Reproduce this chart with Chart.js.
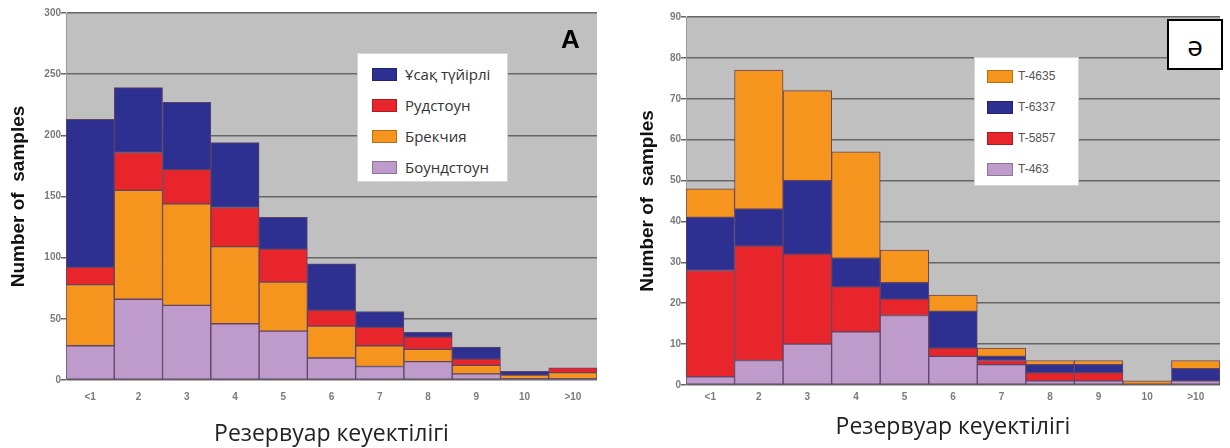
<!DOCTYPE html>
<html lang="kk">
<head>
    <meta charset="UTF-8">
    <title>Резервуар кеуектілігі</title>
    <style>
        body {
            margin: 0;
            width: 1230px;
            height: 448px;
            position: relative;
            overflow: hidden;
            background: #fff;
            font-family: 'Liberation Sans', Arial, sans-serif;
        }
        .panel {
            position: absolute;
            top: 0;
        }
        .legend {
            position: absolute;
            background: #fff;
            border: 1px solid #d6d6d6;
            box-sizing: border-box;
        }
        .legend .item {
            position: absolute;
            height: 20px;
            display: flex;
            align-items: center;
            white-space: nowrap;
        }
        .legend .swatch {
            box-sizing: border-box;
            height: 13px;
            border: 1px solid rgba(0, 0, 0, 0.25);
        }
        .tag {
            position: absolute;
            line-height: 1;
        }
    </style>
</head>
<body>
    <div class="panel" style="left:0; width:610px; height:448px;">
        <canvas id="chartA" width="610" height="448"></canvas>
    </div>
    <div class="panel" style="left:610px; width:620px; height:448px;">
        <canvas id="chartB" width="620" height="448"></canvas>
    </div>

    <div id="legendA" class="legend" style="left:357px; top:53px; width:151px; height:129px;"></div>
    <div id="legendB" class="legend" style="left:974px; top:57px; width:105px; height:129px;"></div>

    <div class="tag" style="left:561px; top:24px; font:bold 26px 'Liberation Sans', Arial, sans-serif;">A</div>
    <div class="tag" style="left:1167px; top:19px; width:56px; height:51px; box-sizing:border-box; border:2px solid #000; background:#fff; font:28px 'Open Sans', sans-serif; display:flex; align-items:center; justify-content:center;">ə</div>

    <script src="https://cdn.jsdelivr.net/npm/chart.js"></script>
    <script>
        // porosity classes (x axis)
        const categories = ['<1', '2', '3', '4', '5', '6', '7', '8', '9', '10', '>10'];

        // panel A, by rock type (bottom of stack first)
        const boundstone = [28, 66, 61, 46, 40, 18, 11, 15, 5, 1, 1];
        const breccia = [50, 89, 83, 63, 40, 26, 17, 10, 7, 3, 5];
        const rudstone = [14, 31, 28, 32, 27, 13, 15, 10, 5, 0, 4];
        const fineGrained = [121, 53, 55, 53, 26, 38, 13, 4, 10, 3, 0];

        // panel ə, by well (bottom of stack first)
        const t463 = [2, 6, 10, 13, 17, 7, 5, 1, 1, 0, 1];
        const t5857 = [26, 28, 22, 11, 4, 2, 1, 2, 2, 0, 0];
        const t6337 = [13, 9, 18, 7, 4, 9, 1, 2, 2, 0, 3];
        const t4635 = [7, 34, 22, 26, 8, 4, 2, 1, 1, 1, 2];

        const yTicksA = { max: 300, step: 50 };
        const yTicksB = { max: 90, step: 10 };

        const BLUE = '#2d3090';
        const RED = '#e9252c';
        const ORANGE = '#f6951e';
        const LILAC = '#be9bca';

        const seriesA = [
            { label: 'Боундстоун', data: boundstone, color: LILAC },
            { label: 'Брекчия', data: breccia, color: ORANGE },
            { label: 'Рудстоун', data: rudstone, color: RED },
            { label: 'Ұсақ түйірлі', data: fineGrained, color: BLUE }
        ];
        const seriesB = [
            { label: 'T-463', data: t463, color: LILAC },
            { label: 'T-5857', data: t5857, color: RED },
            { label: 'T-6337', data: t6337, color: BLUE },
            { label: 'T-4635', data: t4635, color: ORANGE }
        ];

        // grey plot area like the old Excel charts
        const plotBackground = {
            id: 'plotBackground',
            beforeDraw(chart) {
                const { ctx, chartArea: a } = chart;
                ctx.save();
                ctx.fillStyle = '#c0c0c0';
                ctx.fillRect(a.left, a.top, a.right - a.left, a.bottom - a.top);
                ctx.restore();
            }
        };

        const makeChart = (id, series, yTicks, o) => new Chart(document.getElementById(id), {
            type: 'bar',
            data: {
                labels: categories,
                datasets: series.map(s => ({
                    label: s.label,
                    data: s.data,
                    backgroundColor: s.color,
                    borderColor: '#5e4466',
                    borderWidth: 1,
                    borderSkipped: false,
                    barPercentage: 1,
                    categoryPercentage: 1
                }))
            },
            options: {
                responsive: false,
                animation: false,
                devicePixelRatio: 1,
                layout: { padding: { left: 0, top: o.top, right: o.right, bottom: 0 } },
                plugins: { legend: { display: false }, tooltip: { enabled: false } },
                scales: {
                    x: {
                        stacked: true,
                        afterFit: s => { s.height = o.xHeight; },
                        grid: { display: false, drawTicks: false },
                        border: { display: false },
                        ticks: { color: '#7a7a7a', padding: o.xTickPad, font: { family: 'Liberation Sans', size: o.tickSize, weight: 'bold' } },
                        title: {
                            display: true,
                            text: 'Резервуар кеуектілігі',
                            color: '#222',
                            font: { family: 'Open Sans', size: 23 },
                            padding: { top: 0, bottom: o.xTitlePad }
                        }
                    },
                    y: {
                        stacked: true,
                        min: 0,
                        max: yTicks.max,
                        afterFit: s => { s.width = o.yWidth; },
                        grid: { color: '#666', lineWidth: 1.5, tickLength: 5 },
                        border: { color: '#9a9a9a', width: 1 },
                        ticks: { stepSize: yTicks.step, color: '#7a7a7a', padding: 0, font: { family: 'Liberation Sans', size: o.tickSize, weight: 'bold' } },
                        title: {
                            display: true,
                            text: 'Number of  samples',
                            color: '#111',
                            font: { family: 'Liberation Sans', size: 19, weight: 'bold' },
                            padding: { top: o.yTitlePad, bottom: 0 }
                        }
                    }
                }
            },
            plugins: [plotBackground]
        });

        makeChart('chartA', seriesA, yTicksA, { top: 13, right: 13, xHeight: 68, yWidth: 66, tickSize: 10, xTickPad: 11, xTitlePad: 0, yTitlePad: 7 });
        makeChart('chartB', seriesB, yTicksB, { top: 17, right: 10, xHeight: 63, yWidth: 76, tickSize: 10, xTickPad: 6, xTitlePad: 7, yTitlePad: 26 });

        // legends, top of the stack listed first
        const buildLegend = (id, series, l) => {
            const box = document.getElementById(id);
            series.slice().reverse().forEach((s, i) => {
                const item = document.createElement('div');
                item.className = 'item';
                item.style.left = l.left + 'px';
                item.style.top = (l.first + i * l.step - 10) + 'px';
                const sw = document.createElement('span');
                sw.className = 'swatch';
                sw.style.width = l.swatch + 'px';
                sw.style.background = s.color;
                const tx = document.createElement('span');
                tx.textContent = s.label;
                tx.style.marginLeft = l.gap + 'px';
                tx.style.font = l.font;
                tx.style.color = l.color;
                item.appendChild(sw);
                item.appendChild(tx);
                box.appendChild(item);
            });
        };

        buildLegend('legendA', seriesA, { left: 14, first: 20, step: 31, swatch: 25, gap: 8, font: "15px 'Open Sans', sans-serif", color: '#333' });
        buildLegend('legendB', seriesB, { left: 12, first: 18, step: 31, swatch: 26, gap: 5, font: "12px 'Liberation Sans', Arial, sans-serif", color: '#555' });
    </script>
</body>
</html>
